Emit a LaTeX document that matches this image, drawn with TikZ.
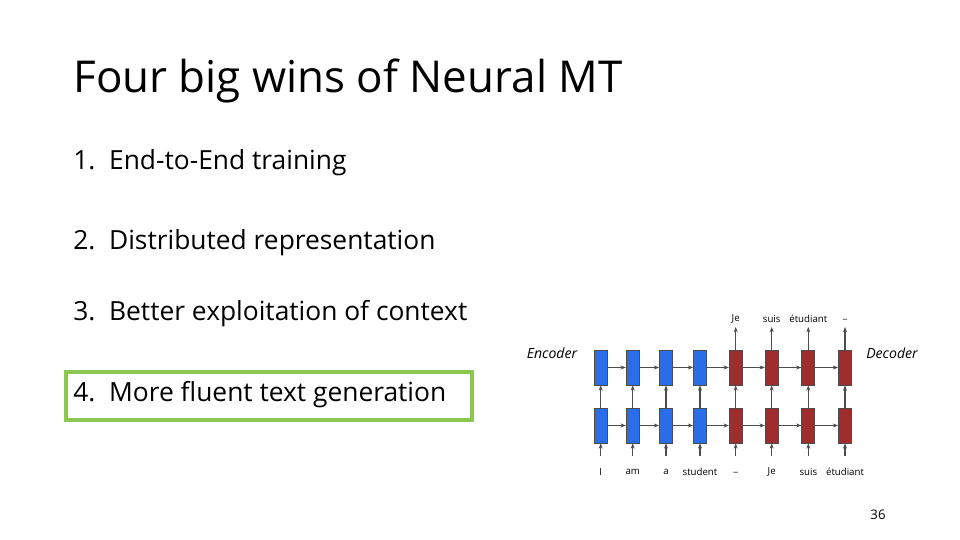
\documentclass[tikz,border=0pt]{standalone}
\usepackage{fontspec}
\setmainfont{Open Sans}
\usetikzlibrary{arrows.meta}
\definecolor{encblue}{RGB}{40,110,230}
\definecolor{decred}{RGB}{160,45,45}
\definecolor{boxgreen}{RGB}{140,200,80}
\tikzset{
  cell/.style={draw=black!70, minimum width=0.26cm, minimum height=0.7cm, inner sep=0pt},
  enc/.style={cell, fill=encblue},
  dec/.style={cell, fill=decred},
  link/.style={-{Stealth[length=3pt]}, black!70, semithick},
  word/.style={font=\fontsize{5.5}{6}\selectfont, inner sep=0pt},
  item/.style={font=\fontsize{15}{18}\selectfont, anchor=west, inner sep=0pt}
}
\begin{document}
\begin{tikzpicture}[x=0.02cm, y=-0.02cm]
  \useasboundingbox (0,0) rectangle (960,540);
  %TITLE
  \node[anchor=west, inner sep=0pt, font=\fontsize{25}{30}\selectfont] (title) at (73,81) {Four big wins of Neural MT};
  \node[item] (i1) at (73,163) {1.\ \ End-to-End training};
  \node[item] (i2) at (73,243) {2.\ \ Distributed representation};
  \node[item] (i3) at (73,314) {3.\ \ Better exploitation of context};
  \node[item] (i4) at (73,395) {4.\ \ More fluent text generation};
  \draw[boxgreen, line width=1.8pt] (66,372) rectangle (472,420);
  \node[font=\fontsize{7.5}{9}\selectfont] (page) at (878,515) {36};
  %NETWORK
  \node[font=\itshape\fontsize{8}{9}\selectfont] (enclab) at (552,353) {Encoder};
  \node[font=\itshape\fontsize{8}{9}\selectfont] (declab) at (892,353) {Decoder};
  \foreach \x/\inw/\outw [count=\i] in {600.7/I/, 632.7/am/, 666/a/, 700/student/,
      735.7/\_/Je, 771.7/Je/suis, 808.3/suis/étudiant, 845/étudiant/\_} {
    \ifnum\i<5 \def\kind{enc}\else\def\kind{dec}\fi
    \node[\kind] (t\i) at (\x,367.5) {};
    \node[\kind] (b\i) at (\x,425.5) {};
    \node[word] (in\i) at (\x,472) {\inw};
    \coordinate (src\i) at (\x,456);
    \draw[link] (src\i) -- (b\i);
    \draw[link] (b\i) -- (t\i);
    \ifnum\i>4
      \node[word] (out\i) at (\x,319) {\outw};
      \coordinate (dst\i) at (\x,327);
      \draw[link] (t\i) -- (dst\i);
    \fi
  }
  \foreach \i [evaluate=\i as \j using int(\i+1)] in {1,...,7} {
    \draw[link] (t\i) -- (t\j);
    \draw[link] (b\i) -- (b\j);
  }
\end{tikzpicture}
\end{document}
